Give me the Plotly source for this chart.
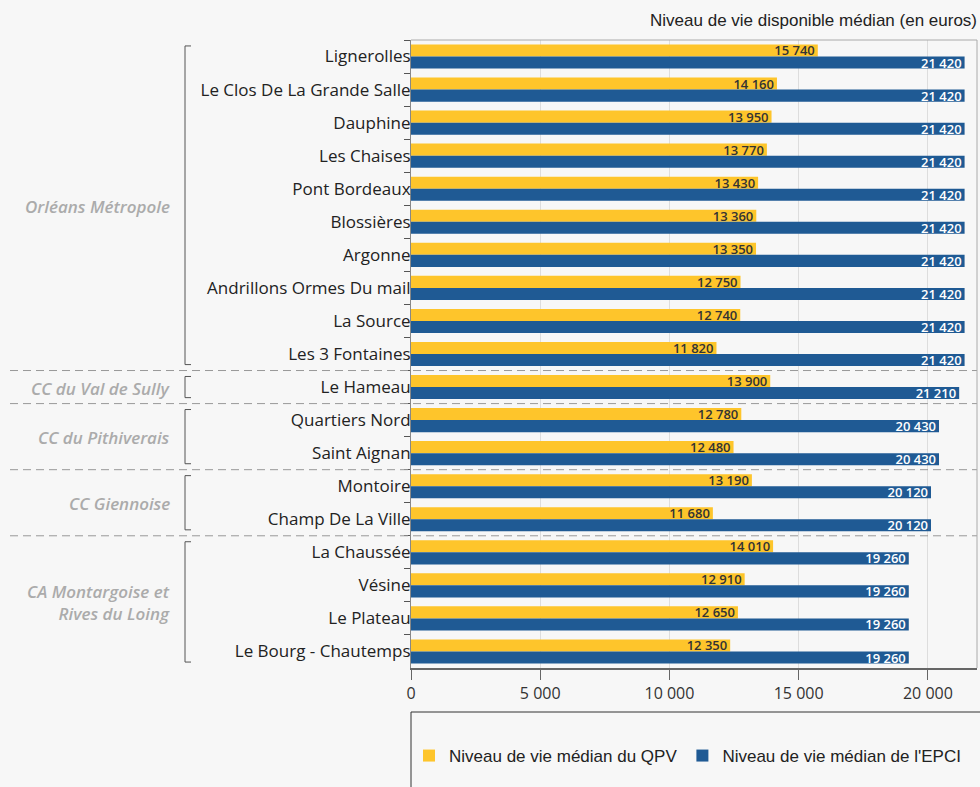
import plotly.graph_objects as go

quartiers = ["Lignerolles", "Le Clos De La Grande Salle", "Dauphine", "Les Chaises",
             "Pont Bordeaux", "Blossières", "Argonne", "Andrillons Ormes Du mail",
             "La Source", "Les 3 Fontaines", "Le Hameau", "Quartiers Nord",
             "Saint Aignan", "Montoire", "Champ De La Ville", "La Chaussée",
             "Vésine", "Le Plateau", "Le Bourg - Chautemps"]
qpv = [15740, 14160, 13950, 13770, 13430, 13360, 13350, 12750, 12740, 11820,
       13900, 12780, 12480, 13190, 11680, 14010, 12910, 12650, 12350]
epci = [21420, 21420, 21420, 21420, 21420, 21420, 21420, 21420, 21420, 21420,
        21210, 20430, 20430, 20120, 20120, 19260, 19260, 19260, 19260]
groups = ["Orléans Métropole", "CC du Val de Sully", "CC du Pithiverais",
          "CC Giennoise", "CA Montargoise et<br>Rives du Loing"]
group_sizes = [10, 1, 2, 2, 4]
x_ticks = [0, 5000, 10000, 15000, 20000]

YELLOW = "#FEC52B"
BLUE = "#1F5A94"
BG = "#F7F7F7"

fig = go.Figure()
fig.add_trace(go.Bar(
    y=quartiers, x=qpv, orientation="h", name="Niveau de vie médian du QPV",
    marker=dict(color=YELLOW, line=dict(width=0)),
    texttemplate="%{x:,d}", textposition="inside", insidetextanchor="end",
    constraintext="none",
    textfont=dict(family="Open Sans", size=13, color="#333333", weight=600),
))
fig.add_trace(go.Bar(
    y=quartiers, x=epci, orientation="h", name="Niveau de vie médian de l'EPCI",
    marker=dict(color=BLUE, line=dict(width=0)),
    texttemplate="%{x:,d}", textposition="inside", insidetextanchor="end",
    constraintext="none",
    textfont=dict(family="Open Sans", size=13, color="#FFFFFF", weight=600),
))

L, R, T, B = 411, 3, 40, 119
W, H = 980, 787
pw = W - L - R
ph = H - T - B


def px_to_xpaper(px):
    return (px - L) / pw


def py_to_ypaper(py):
    return (H - B - py) / ph


shapes = []
annotations = []
start = 0
for gi, (g, n) in enumerate(zip(groups, group_sizes)):
    first, last = start, start + n - 1
    y0, y1 = first - 0.32, last + 0.32
    xb = px_to_xpaper(185)
    xt = px_to_xpaper(191)
    for seg in [(xb, y0, xb, y1), (xb, y0, xt, y0), (xb, y1, xt, y1)]:
        shapes.append(dict(type="line", xref="paper", yref="y",
                           x0=seg[0], y0=seg[1], x1=seg[2], y1=seg[3],
                           line=dict(color="#555555", width=1)))
    annotations.append(dict(
        text=g, xref="paper", yref="y", x=px_to_xpaper(172), y=(first + last) / 2,
        xanchor="right", yanchor="middle", showarrow=False, align="right",
        yshift=-1,
        font=dict(family="Open Sans", size=17, color="#ABABAB", style="italic", weight=600),
    ))
    if gi < len(groups) - 1:
        yb = last + 0.5
        shapes.append(dict(type="line", xref="paper", yref="y",
                           x0=px_to_xpaper(10), x1=1, y0=yb, y1=yb,
                           line=dict(color="#999999", width=1, dash="8px,5px")))
    start += n

# legend frame
shapes.append(dict(type="rect", xref="paper", yref="paper",
                   x0=0, x1=1.2, y0=py_to_ypaper(712), y1=py_to_ypaper(820),
                   line=dict(color="#333333", width=1), fillcolor="rgba(0,0,0,0)"))
# plot frame top & right
shapes.append(dict(type="line", xref="paper", yref="paper", x0=0, x1=1, y0=1, y1=1,
                   line=dict(color="#AAAAAA", width=1)))
shapes.append(dict(type="line", xref="paper", yref="paper", x0=1, x1=1, y0=0, y1=1,
                   line=dict(color="#AAAAAA", width=1)))

fig.update_layout(
    width=W, height=H,
    margin=dict(l=L, r=R, t=T, b=B, pad=0),
    paper_bgcolor=BG, plot_bgcolor=BG,
    barmode="group", bargap=0.27, bargroupgap=0,
    separators=", ",
    title=dict(text="Niveau de vie disponible médian (en euros)",
               x=977 / W, xanchor="right", xref="container",
               y=1 - 20 / H, yanchor="middle", yref="container",
               font=dict(family="Liberation Sans", size=17, color="#222222")),
    showlegend=True,
    legend=dict(orientation="h", x=px_to_xpaper(409), xanchor="left",
                y=py_to_ypaper(756), yanchor="middle",
                font=dict(family="Liberation Sans", size=17, color="#222222"),
                bgcolor="rgba(0,0,0,0)", itemclick=False, traceorder="normal"),
    shapes=shapes,
    annotations=annotations,
    xaxis=dict(range=[0, 21900], tickvals=x_ticks, tickformat=",d",
               showgrid=True, gridcolor="#DDDDDD", gridwidth=1, zeroline=False,
               showline=True, linecolor="#666666", linewidth=1.5, mirror=False,
               ticks="outside", ticklen=10, tickcolor="#666666",
               tickfont=dict(family="Open Sans", size=16, color="#333333")),
    yaxis=dict(autorange="reversed", type="category",
               showgrid=False, zeroline=False,
               showline=True, linecolor="#888888", linewidth=1,
               ticks="outside", tickson="boundaries", ticklen=6, tickcolor="#555555",
               ticklabelstandoff=-4,
               tickfont=dict(family="Open Sans", size=17, color="#222222")),
)

fig.write_html("out.html", config={"displayModeBar": False},
               post_script="document.body.style.margin='0px';")
